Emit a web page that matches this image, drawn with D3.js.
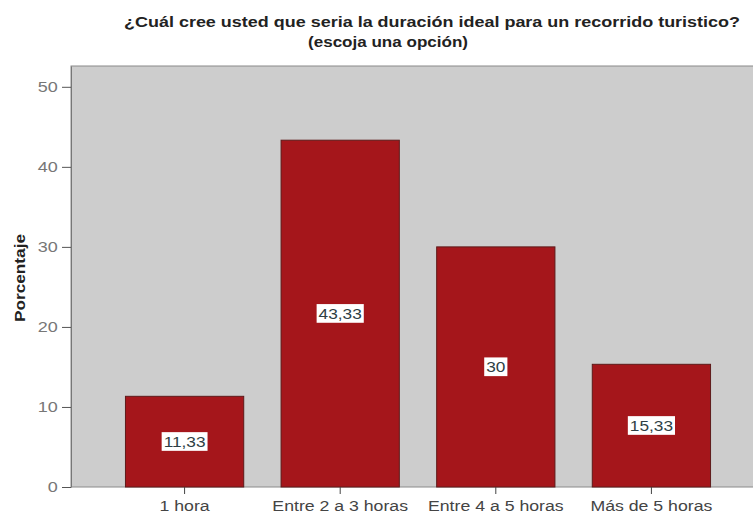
<!DOCTYPE html>
<html lang="es">
<head>
<meta charset="utf-8">
<script src="https://d3js.org/d3.v7.min.js"></script>
<style>
  body { margin: 0; background: #fff; }
  text { font-family: "Liberation Sans", Arial, sans-serif; }
</style>
</head>
<body>
<svg id="chart" width="753" height="517"></svg>
<script>

// data
var categories = ["1 hora", "Entre 2 a 3 horas", "Entre 4 a 5 horas", "Más de 5 horas"];
var percentages = [11.33, 43.33, 30, 15.33];
var valueLabels = ["11,33", "43,33", "30", "15,33"];
var yTicks = [0, 10, 20, 30, 40, 50];

var svg = d3.select("#chart");

var plotLeft = 71, plotRight = 753, plotTop = 66, plotBottom = 487;

var x = d3.scaleBand()
  .domain(categories)
  .range([plotLeft, 765])
  .paddingInner(0.24)
  .paddingOuter(0.35);

var y = d3.scaleLinear()
  .domain([0, 52.6])
  .range([plotBottom, plotTop]);

// plot background
svg.append("rect")
  .attr("x", plotLeft)
  .attr("y", plotTop)
  .attr("width", plotRight - plotLeft + 2)
  .attr("height", plotBottom - plotTop)
  .attr("fill", "#cdcdcd")
  .attr("stroke", "#8a8a8a")
  .attr("stroke-width", 1);

// bars
svg.selectAll(".bar")
  .data(percentages)
  .enter().append("rect")
  .attr("class", "bar")
  .attr("x", function(d, i) { return x(categories[i]); })
  .attr("y", function(d) { return y(d); })
  .attr("width", x.bandwidth())
  .attr("height", function(d) { return plotBottom - y(d); })
  .attr("fill", "#a5161b")
  .attr("stroke", "#5e1a1a")
  .attr("stroke-width", 1);

// value labels, white box behind
var lab = svg.selectAll(".vlab")
  .data(percentages)
  .enter().append("g")
  .attr("class", "vlab")
  .attr("transform", function(d, i) {
    return "translate(" + (x(categories[i]) + x.bandwidth() / 2) + "," + ((y(d) + plotBottom) / 2) + ")";
  });

lab.append("text")
  .attr("text-anchor", "middle")
  .attr("dy", "0.36em")
  .attr("font-size", "15px")
  .attr("fill", "#2f3f45")
  .attr("transform", "scale(1.15,1)")
  .text(function(d, i) { return valueLabels[i]; });

lab.each(function() {
  var g = d3.select(this);
  var bb = g.select("text").node().getBBox();
  var k = 1.15;
  g.insert("rect", "text")
    .attr("x", bb.x * k - 2)
    .attr("y", bb.y - 1)
    .attr("width", bb.width * k + 4)
    .attr("height", bb.height + 2)
    .attr("fill", "#ffffff");
});

// y axis
var yAxis = svg.append("g")
  .attr("transform", "translate(" + plotLeft + ",0)")
  .call(d3.axisLeft(y).tickValues(yTicks).tickSize(9).tickSizeOuter(0).tickPadding(2));
yAxis.select(".domain").attr("stroke", "#777");
yAxis.selectAll(".tick line").attr("stroke", "#555");
yAxis.selectAll(".tick text")
  .attr("font-size", "15px")
  .attr("fill", "#777")
  .attr("transform", "scale(1.2,1)")
  .style("font-family", "'Liberation Sans', Arial, sans-serif");

// x axis
var xAxis = svg.append("g")
  .attr("transform", "translate(0," + plotBottom + ")")
  .call(d3.axisBottom(x).tickSize(7).tickSizeOuter(0).tickPadding(6));
xAxis.select(".domain").remove();
xAxis.selectAll(".tick line").attr("stroke", "#444");
xAxis.selectAll(".tick text")
  .attr("font-size", "15px")
  .attr("fill", "#444")
  .attr("transform", "scale(1.18,1)")
  .style("font-family", "'Liberation Sans', Arial, sans-serif");

// y axis title
svg.append("text")
  .attr("transform", "translate(25,278) rotate(-90)")
  .attr("text-anchor", "middle")
  .attr("font-size", "15px")
  .attr("font-weight", "bold")
  .attr("fill", "#222")
  .attr("textLength", 88)
  .attr("lengthAdjust", "spacingAndGlyphs")
  .text("Porcentaje");

// chart title
svg.append("text")
  .attr("x", 432)
  .attr("y", 27)
  .attr("text-anchor", "middle")
  .attr("font-size", "15px")
  .attr("font-weight", "bold")
  .attr("fill", "#222")
  .attr("textLength", 616)
  .attr("lengthAdjust", "spacingAndGlyphs")
  .text("¿Cuál cree usted que seria la duración ideal para un recorrido turistico?");

svg.append("text")
  .attr("x", 388)
  .attr("y", 47)
  .attr("text-anchor", "middle")
  .attr("font-size", "15px")
  .attr("font-weight", "bold")
  .attr("fill", "#222")
  .attr("textLength", 160)
  .attr("lengthAdjust", "spacingAndGlyphs")
  .text("(escoja una opción)");

</script>
</body>
</html>
